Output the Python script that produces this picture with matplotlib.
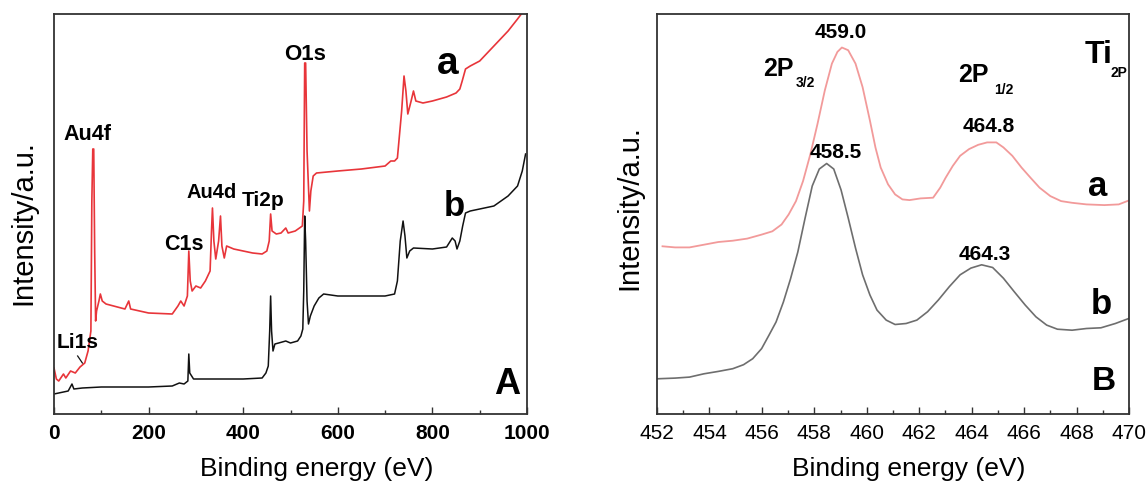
import matplotlib
matplotlib.use("Agg")
import matplotlib.pyplot as plt
from matplotlib.ticker import MultipleLocator

plt.rcParams['font.family'] = ['Liberation Sans', 'DejaVu Sans']

# ---------------- Panel A: survey spectra ----------------
survey_a_x = [0, 5, 10, 20, 25, 35, 45, 55, 65, 72, 78, 80, 82, 84, 86, 88, 90, 95, 98, 102,
              110, 150, 158, 162, 200, 250, 262, 268, 275, 282, 285, 288, 292, 300, 310, 320,
              330, 333, 335, 338, 342, 348, 352, 355, 360, 365, 380, 400, 420, 440, 450, 455,
              458, 461, 470, 480, 490, 495, 510, 525, 528, 530, 532, 535, 540, 543, 548, 555,
              600, 650, 700, 712, 720, 726, 735, 740, 744, 748, 755, 760, 765, 780, 800, 830,
              850, 858, 863, 870, 880, 900, 920, 940, 960, 980, 988]
survey_a_y = [46, 35, 33, 40, 36, 43, 41, 47, 51, 63, 83, 213, 265, 265, 163, 93, 103, 113, 120, 113,
              110, 105, 113, 105, 101, 100, 108, 113, 108, 118, 163, 133, 123, 128, 126, 133,
              143, 183, 206, 173, 155, 173, 198, 168, 156, 168, 165, 163, 161, 160, 163, 173,
              200, 183, 180, 181, 186, 181, 183, 188, 213, 351, 351, 263, 203, 223, 238, 241,
              243, 245, 248, 253, 253, 256, 303, 338, 323, 300, 313, 323, 313, 311, 313, 317,
              321, 325, 333, 345, 348, 353, 363, 373, 383, 395, 400]

survey_b_x = [0, 10, 20, 30, 38, 42, 60, 100, 150, 200, 250, 265, 275, 283, 285, 287, 295, 350,
              400, 440, 448, 453, 456, 458, 460, 463, 467, 475, 490, 500, 515, 522, 526, 528,
              530, 532, 535, 538, 542, 550, 560, 570, 600, 650, 700, 720, 726, 732, 738, 742,
              746, 752, 760, 800, 830, 842, 848, 852, 858, 864, 870, 880, 900, 930, 960, 980,
              990, 997]
survey_b_y = [20, 21, 22, 23, 30, 25, 26, 27, 27, 27, 28, 31, 30, 33, 60, 41, 35, 35,
              35, 36, 41, 48, 83, 118, 83, 63, 70, 71, 73, 71, 73, 78, 85, 123,
              198, 173, 113, 90, 98, 108, 116, 120, 118, 118, 118, 120, 133, 173, 193, 178,
              156, 163, 166, 165, 167, 176, 173, 165, 173, 188, 201, 203, 205, 208, 218, 228,
              243, 260]

# ---------------- Panel B: Ti 2p ----------------
ti_a_x = [452.21, 452.69, 453.24, 453.79, 454.34, 454.89, 455.44, 455.99, 456.40, 456.75,
          457.02, 457.30, 457.57, 457.85, 458.12, 458.40, 458.67, 458.88, 459.05, 459.29,
          459.57, 459.84, 460.12, 460.33, 460.53, 460.81, 461.08, 461.36, 461.63, 462.05,
          462.53, 462.80, 463.01, 463.28, 463.56, 463.90, 464.25, 464.59, 464.94, 465.21,
          465.55, 465.90, 466.24, 466.59, 467.00, 467.41, 467.83, 468.38, 469.06, 469.61,
          470.00]
ti_a_y = [167.7, 166.6, 166.6, 169.3, 172.0, 173.3, 175.4, 179.4, 182.7, 189.5,
          199.5, 212.9, 233.0, 259.9, 290.0, 323.6, 350.4, 362.1, 366.5, 363.8,
          350.4, 326.9, 293.4, 266.6, 246.5, 229.7, 219.6, 214.6, 213.9, 215.6,
          216.3, 226.3, 236.4, 248.1, 258.2, 264.9, 269.2, 271.6, 271.6, 266.6,
          258.2, 246.5, 236.4, 226.3, 217.9, 212.9, 211.2, 209.6, 208.9, 209.6,
          213.6]

ti_b_x = [452.00, 452.69, 453.24, 453.79, 454.34, 454.89, 455.30, 455.65, 455.99, 456.27,
          456.54, 456.82, 457.09, 457.37, 457.64, 457.92, 458.19, 458.47, 458.74, 459.02,
          459.29, 459.57, 459.84, 460.12, 460.39, 460.74, 461.08, 461.50, 461.91, 462.32,
          462.73, 463.15, 463.56, 463.97, 464.38, 464.80, 465.21, 465.62, 466.04, 466.45,
          466.86, 467.27, 467.83, 468.38, 468.93, 469.48, 470.00]
ti_b_y = [35.2, 35.9, 36.9, 40.2, 42.6, 45.3, 49.3, 55.3, 65.4, 78.8,
          92.0, 112.0, 135.0, 162.0, 195.0, 228.0, 245.0, 250.5, 245.0, 224.0,
          196.2, 166.0, 139.2, 119.0, 103.9, 93.9, 89.5, 90.5, 93.9, 102.3,
          114.0, 127.4, 139.2, 145.9, 149.2, 146.5, 135.8, 122.4, 109.0, 97.2,
          88.9, 84.8, 83.8, 85.5, 86.2, 90.5, 95.6]

survey_ticks = [0, 200, 400, 600, 800, 1000]
ti_ticks = [452, 454, 456, 458, 460, 462, 464, 466, 468, 470]

W, H = 1148, 484
fig = plt.figure(figsize=(W / 100, H / 100), dpi=100)
axA = fig.add_axes([54 / W, (H - 414) / H, 473 / W, 400 / H])
axB = fig.add_axes([657 / W, (H - 414) / H, 472 / W, 400 / H])

spine_col = '#333333'
for ax in (axA, axB):
    for s in ax.spines.values():
        s.set_color(spine_col)
        s.set_linewidth(1.3)
    ax.set_yticks([])
    ax.tick_params(axis='x', direction='in', length=5, width=1, colors=spine_col,
                   labelsize=15, labelcolor='black', pad=7)
    ax.tick_params(axis='x', which='minor', direction='in', length=3, width=1, colors=spine_col)

# Axis labels (placed as figure text to match reference positions)
fig.text(317 / W, 1 - 476 / H, 'Binding energy (eV)', fontsize=19, ha='center', va='baseline')
fig.text(909 / W, 1 - 476 / H, 'Binding energy (eV)', fontsize=19, ha='center', va='baseline')
fig.text(23 / W, 1 - 223 / H, 'Intensity/a.u.', fontsize=21, rotation=90, ha='center', va='center')
fig.text(629 / W, 1 - 208 / H, 'Intensity/a.u.', fontsize=21, rotation=90, ha='center', va='center')

# Panel A
axA.plot(survey_a_x, survey_a_y, color='#e8353a', lw=1.2)
axA.plot(survey_b_x, survey_b_y, color='#111111', lw=1.1)
axA.set_xlim(0, 1000)
axA.set_ylim(0, 400)
axA.set_xticks(survey_ticks)
axA.xaxis.set_minor_locator(MultipleLocator(100))
for lab in axA.get_xticklabels():
    lab.set_fontweight('bold')

tb = dict(fontweight='bold', ha='center', va='center')
axA.text(70, 279, 'Au4f', fontsize=15.5, **tb)
axA.text(275, 170, 'C1s', fontsize=15.5, **tb)
axA.text(334, 222, 'Au4d', fontsize=14.5, **tb)
axA.text(443, 214, 'Ti2p', fontsize=15, **tb)
axA.text(530, 360, 'O1s', fontsize=16, **tb)
axA.text(50, 71, 'Li1s', fontsize=15, **tb)
axA.plot([50, 60], [58, 51], color='#111111', lw=0.9)
axA.text(833, 350, 'a', fontsize=28, **tb)
axA.text(847, 207, 'b', fontsize=25, **tb)
axA.text(958, 29, 'A', fontsize=26, **tb)

# Panel B
axB.plot(ti_a_x, ti_a_y, color='#f29a9a', lw=1.3)
axB.plot(ti_b_x, ti_b_y, color='#6e6e6e', lw=1.2)
axB.set_xlim(452, 470)
axB.set_ylim(0, 400)
axB.set_xticks(ti_ticks)
axB.xaxis.set_minor_locator(MultipleLocator(1))

axB.text(459.02, 382, '459.0', fontsize=15, **tb)
axB.text(458.81, 262, '458.5', fontsize=15, **tb)
axB.text(464.66, 287, '464.8', fontsize=15, **tb)
axB.text(464.48, 159, '464.3', fontsize=15, **tb)
axB.text(456.61, 345, '2P', fontsize=18, **tb)
axB.text(457.67, 331, '3/2', fontsize=10, **tb)
axB.text(464.07, 339, '2P', fontsize=18, **tb)
axB.text(465.21, 324, '1/2', fontsize=10, **tb)
axB.text(468.85, 359, 'Ti', fontsize=23, **tb)
axB.text(469.6, 341, '2P', fontsize=10, **tb)
axB.text(468.82, 228, 'a', fontsize=25, **tb)
axB.text(468.93, 109, 'b', fontsize=25, **tb)
axB.text(469.04, 32, 'B', fontsize=24, **tb)

fig.savefig('out.png', dpi=100)
